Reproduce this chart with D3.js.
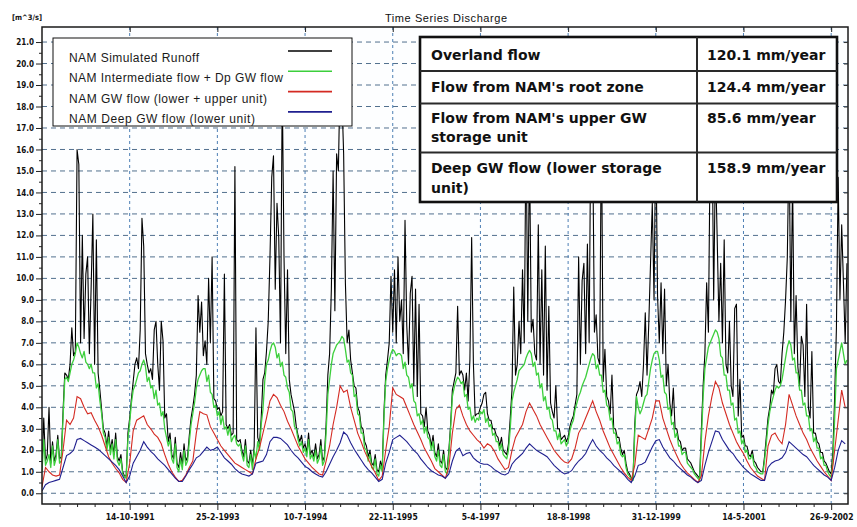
<!DOCTYPE html>
<html><head><meta charset="utf-8">
<script src="https://cdn.jsdelivr.net/npm/d3@7"></script>
<style>body{margin:0;background:#fff}svg{display:block}</style>
</head><body>
<svg id="chart" width="857" height="527"></svg>
<script>
// ---------------- DATA ----------------
const startDate = "1990-06-01";
const endDate = "2002-12-31";
const fastStepDays = 10;   // runoff + intermediate series sampling
const slowStepDays = 20;   // groundwater series sampling

const xTickLabels = ["14-10-1991","25-2-1993","10-7-1994","22-11-1995","5-4-1997","18-8-1998","31-12-1999","14-5-2001","26-9-2002"];
const yTickLabels = ["0.0","1.0","2.0","3.0","4.0","5.0","6.0","7.0","8.0","9.0","10.0","11.0","12.0","13.0","14.0","15.0","16.0","17.0","18.0","19.0","20.0","21.0"];
const seriesNames = ["NAM Simulated Runoff","NAM Intermediate flow + Dp GW flow","NAM GW flow (lower + upper unit)","NAM Deep GW flow (lower unit)"];
const tableLabels = [["Overland flow"],["Flow from NAM's root zone"],["Flow from NAM's upper GW","storage unit"],["Deep GW flow (lower storage","unit)"]];
const tableValues = ["120.1 mm/year","124.4 mm/year","85.6 mm/year","158.9 mm/year"];

// NAM Simulated Runoff (every 10 days)
const runoff = [
1.2,3.5,1.5,1.8,4.0,1.4,2.4,1.5,1.8,2.7,
1.6,1.7,3.8,5.6,5.5,5.3,6.0,7.7,6.4,6.6,
16.0,15.3,7.0,12.0,7.2,10.2,11.0,6.5,9.5,13.0,
6.0,11.8,5.6,4.8,3.9,3.0,2.8,2.2,2.9,2.0,
2.5,1.8,2.8,1.7,1.5,1.8,1.0,0.8,0.8,2.8,
3.5,4.4,5.2,6.0,6.3,5.8,7.6,12.8,11.5,6.5,
6.0,5.6,5.8,5.3,7.6,8.0,6.0,4.8,8.0,7.1,
3.5,3.7,2.4,2.8,1.8,1.6,2.6,1.4,1.2,1.9,
1.3,2.3,1.5,1.7,2.7,3.5,4.0,4.6,5.5,9.2,
7.5,8.9,6.4,7.1,6.0,10.0,7.0,11.0,4.4,4.3,
3.9,4.0,3.6,3.8,10.2,3.2,3.0,3.2,2.7,2.8,
15.2,2.5,2.4,2.5,2.0,1.7,2.5,1.5,1.4,2.0,
1.3,2.2,7.7,2.6,2.3,3.5,5.3,5.6,6.6,8.0,
11.0,14.7,15.7,9.5,13.5,11.9,7.0,19.0,11.0,6.5,
10.4,5.3,4.6,4.2,3.8,3.1,2.7,2.4,2.7,2.1,
2.3,1.9,2.8,1.8,2.0,1.7,2.3,1.6,1.8,2.5,
1.5,1.7,3.2,5.5,6.5,9.5,15.0,8.5,15.8,15.0,
19.5,18.5,15.8,9.8,7.0,7.6,6.2,5.6,5.0,4.9,
4.0,3.8,3.1,3.0,2.4,2.2,1.7,2.0,1.4,1.3,
1.8,1.1,1.0,1.5,1.2,3.8,5.5,6.2,7.0,10.1,
7.5,10.4,7.0,11.0,8.0,9.0,6.5,12.7,7.8,6.0,
9.3,10.1,5.0,9.5,4.5,8.8,3.7,3.6,3.1,4.0,
2.9,2.7,2.2,2.7,1.9,1.7,2.3,1.5,1.4,2.0,
1.2,1.1,2.0,3.2,4.8,5.2,5.6,8.7,5.5,5.7,
5.5,4.8,5.6,4.3,6.2,11.9,6.0,3.6,3.7,3.7,
4.0,4.2,4.6,4.7,3.7,3.4,3.4,3.0,3.0,2.7,
2.6,2.2,2.6,2.0,1.9,1.8,2.3,3.5,4.8,9.6,
5.5,6.0,8.0,6.5,10.4,7.0,17.0,8.0,16.0,7.5,
8.1,6.5,6.2,12.5,6.0,10.4,5.5,11.5,4.8,8.7,
4.2,3.8,3.5,5.0,3.0,3.0,2.5,2.6,2.7,2.4,
2.6,3.1,3.4,3.6,4.1,4.6,11.0,6.0,9.9,10.7,
6.5,11.6,7.0,18.0,16.5,7.5,8.3,6.3,6.0,17.5,
5.2,6.7,4.5,4.3,3.7,5.5,3.0,3.0,2.6,2.6,
2.1,1.8,2.0,1.4,1.0,0.9,0.7,0.7,3.2,4.6,
4.8,5.2,4.5,6.0,8.4,5.5,7.9,10.7,13.5,9.0,
17.0,9.2,7.0,9.8,6.5,9.5,5.0,6.0,4.2,3.6,
4.9,3.0,3.0,2.5,2.4,2.0,2.1,2.1,1.6,1.5,
1.4,1.2,1.0,0.9,0.8,0.7,3.0,5.0,6.5,9.8,
7.5,16.0,18.0,9.0,15.5,11.9,8.0,10.7,7.0,11.8,
6.0,5.6,8.0,5.0,4.5,8.6,8.8,3.6,5.3,2.6,
2.7,2.2,2.2,1.8,1.7,2.0,1.5,1.4,1.2,1.1,
1.0,1.0,1.7,2.6,3.5,4.0,4.8,4.6,5.8,6.0,
5.2,5.1,6.5,7.5,9.0,11.0,16.5,8.0,14.5,6.5,
9.2,5.9,5.0,7.3,6.9,4.5,8.8,4.0,3.5,6.6,
2.8,2.8,2.4,2.3,1.9,1.9,1.5,1.4,1.2,1.0,
0.9,2.0,4.5,7.7,14.7,9.0,12.5,9.8,7.0,10.7
];

// NAM Intermediate flow + Dp GW flow (every 10 days)
const intermediate = [
1.0,2.5,1.3,1.5,1.8,1.2,2.2,1.3,1.6,2.5,
1.4,1.5,3.5,5.3,5.4,5.2,5.6,6.0,6.2,6.5,
7.0,6.8,6.5,6.3,6.6,6.1,6.0,5.8,6.0,5.6,
5.6,4.9,5.1,4.3,3.7,2.8,2.6,2.0,2.6,1.8,
2.3,1.6,2.5,1.5,1.3,1.6,0.9,0.75,0.7,2.5,
3.3,4.2,4.8,5.0,5.3,5.6,5.7,6.0,6.2,5.9,
5.2,5.4,4.9,5.0,4.4,4.8,4.1,4.2,3.6,3.8,
3.0,2.6,2.2,2.5,1.6,1.4,2.3,1.2,1.0,1.6,
1.1,2.0,1.3,1.5,2.4,3.2,3.7,4.2,4.9,5.3,
5.5,5.7,5.8,5.8,5.2,5.5,4.7,4.6,4.0,4.1,
3.6,3.8,3.2,3.6,3.0,3.1,2.7,3.1,2.4,2.6,
2.7,2.3,2.2,2.3,1.8,1.5,2.2,1.3,1.2,1.8,
1.1,2.0,1.6,2.4,2.0,3.2,3.9,5.2,6.0,6.2,
6.6,6.9,7.0,6.8,6.3,6.5,5.9,6.1,5.5,5.4,
4.9,4.7,3.9,3.8,3.1,3.0,2.5,2.2,2.4,1.9,
2.1,1.7,2.5,1.6,1.8,1.5,2.0,1.4,1.6,2.2,
1.3,1.5,2.8,4.6,5.3,6.0,6.5,6.7,6.9,7.0,
7.1,7.3,7.2,6.7,6.1,6.2,5.6,5.5,4.5,4.6,
3.7,3.6,2.8,2.8,2.1,2.0,1.5,1.8,1.2,1.1,
1.6,0.9,0.8,1.3,1.0,3.5,5.2,5.8,6.2,6.5,
6.7,6.6,6.4,6.5,6.5,6.4,5.8,6.1,5.5,5.4,
4.9,5.1,4.3,4.2,3.6,3.7,3.2,3.4,2.8,3.1,
2.6,2.5,2.0,2.4,1.7,1.5,2.0,1.3,1.2,1.8,
1.0,0.9,1.8,3.0,4.5,4.9,5.2,5.4,5.3,5.1,
5.2,4.5,4.6,3.9,4.0,3.4,3.6,3.3,3.5,3.4,
3.8,3.7,3.9,3.3,3.5,3.1,3.2,2.7,2.8,2.4,
2.4,2.0,2.3,1.8,1.7,1.6,2.0,3.0,4.3,4.7,
5.0,5.3,5.7,5.8,5.9,6.0,6.3,6.5,6.65,6.5,
5.9,6.1,5.5,5.6,4.9,5.1,4.3,4.5,3.9,4.0,
3.5,3.4,2.9,2.9,2.5,2.8,2.3,2.4,2.5,2.2,
2.4,2.9,3.2,3.4,3.9,4.2,4.5,4.7,5.0,5.2,
5.4,5.7,6.0,6.3,6.5,6.4,5.8,6.0,5.5,5.5,
4.7,4.8,4.1,4.0,3.4,3.5,2.8,2.8,2.3,2.4,
1.8,1.7,1.8,1.2,0.9,0.8,0.65,0.6,2.8,4.5,
4.0,3.7,3.9,4.2,4.5,4.6,5.2,5.8,6.2,6.5,
6.6,6.6,6.2,5.4,5.5,4.7,4.6,3.9,4.0,3.2,
3.3,2.6,2.8,2.2,2.2,1.8,1.9,1.9,1.4,1.3,
1.2,1.1,0.9,0.8,0.7,0.6,2.5,4.5,5.8,6.3,
6.8,7.0,7.2,7.4,7.6,7.5,7.2,6.4,6.3,5.5,
5.5,4.8,4.8,4.1,4.2,3.4,3.5,2.8,2.9,2.3,
2.5,1.9,2.0,1.6,1.6,1.8,1.3,1.2,1.0,0.95,
0.9,0.9,1.5,2.3,3.2,3.8,4.2,4.5,4.8,5.0,
4.9,5.0,5.3,5.8,6.3,6.8,7.1,6.9,6.2,6.3,
5.6,5.6,4.8,4.8,4.1,4.2,3.6,3.6,2.9,3.0,
2.4,2.6,2.1,2.1,1.6,1.7,1.3,1.3,1.0,0.85,
0.75,1.5,3.5,5.8,6.2,6.6,7.0,6.5,6.0,6.2
];

// NAM GW flow (lower + upper unit) (every 20 days)
const gwFlow = [
0.3,1.2,1.0,0.85,0.8,0.85,2.0,3.4,3.2,3.5,
4.5,4.4,4.0,3.7,3.75,3.4,3.1,2.7,2.2,1.7,
1.4,1.15,0.95,0.65,0.5,1.4,2.9,3.4,3.5,3.6,
3.2,3.0,2.75,2.6,2.3,1.8,1.35,1.0,0.75,0.55,
0.6,0.85,1.2,1.5,2.8,3.8,3.7,3.65,3.1,2.8,
2.5,2.2,2.0,1.8,1.6,1.4,1.3,1.2,1.1,1.0,
0.9,1.6,2.1,2.8,3.5,4.3,4.6,4.45,4.1,3.8,
3.35,3.0,2.6,2.2,1.9,1.6,1.4,1.2,1.05,0.9,
0.85,1.5,2.2,3.2,4.0,5.0,4.7,4.8,4.0,3.4,
2.8,2.4,1.95,1.6,1.25,0.95,0.6,0.8,2.0,3.1,
4.9,4.6,4.5,4.4,4.0,3.6,3.2,2.85,2.5,2.1,
1.8,1.5,1.15,1.0,0.85,0.7,1.2,2.8,3.9,4.1,
3.6,3.2,2.9,2.7,2.5,2.35,2.1,2.3,2.2,1.95,
1.6,1.35,1.1,1.2,2.0,2.6,2.9,3.2,3.8,4.2,
3.9,3.6,3.2,2.9,2.6,2.3,2.0,1.8,1.6,1.45,
1.4,1.6,2.1,2.8,3.1,3.5,3.9,4.3,3.8,3.4,
2.9,2.5,2.1,1.8,1.5,1.2,0.95,0.75,0.6,1.3,
2.7,2.6,2.5,3.0,3.5,4.3,4.3,3.5,3.0,2.5,
2.1,1.75,1.4,1.15,0.95,0.8,0.65,0.5,0.8,2.4,
3.6,4.5,5.2,4.9,4.2,3.7,3.2,2.8,2.4,2.1,
1.85,1.5,1.2,1.0,0.8,0.7,0.6,2.2,2.7,2.8,
2.5,2.3,3.2,4.6,4.1,3.6,3.2,2.8,2.5,2.1,
1.8,1.5,1.25,1.0,0.8,0.6,2.0,3.4,4.8,4.0
];

// NAM Deep GW flow (lower unit) (every 20 days)
const deepGw = [
0.1,0.4,0.5,0.55,0.6,0.65,1.2,1.75,1.85,2.0,
2.5,2.55,2.45,2.35,2.25,2.15,2.05,1.9,1.75,1.6,
1.45,1.3,1.1,0.8,0.5,0.8,1.4,1.7,2.0,2.4,
2.15,1.95,1.8,1.6,1.45,1.3,1.1,0.9,0.7,0.55,
0.55,0.8,1.1,1.35,1.65,1.75,1.95,2.15,2.0,2.05,
2.15,1.9,1.65,1.5,1.35,1.15,1.0,0.9,0.85,0.8,
0.9,1.4,1.45,1.5,1.8,2.4,2.6,2.6,2.55,2.4,
2.25,2.0,1.8,1.65,1.45,1.25,1.15,1.0,0.9,0.8,
0.75,1.0,1.35,1.7,2.0,2.35,2.85,2.7,2.35,2.05,
1.8,1.55,1.3,1.1,0.95,0.75,0.55,0.65,1.4,1.9,
2.5,2.6,2.7,2.55,2.4,2.2,2.0,1.85,1.6,1.4,
1.2,1.05,0.95,0.85,0.8,0.7,0.9,1.5,1.95,2.1,
1.75,1.85,1.9,1.65,1.5,1.4,1.35,1.35,1.25,1.1,
1.0,0.9,0.85,0.95,1.35,1.55,1.7,1.85,2.1,2.3,
2.15,2.0,1.9,1.8,1.7,1.5,1.3,1.15,1.0,0.9,
0.95,1.05,1.3,1.5,1.65,1.85,2.2,2.5,2.2,2.0,
1.85,1.65,1.5,1.3,1.15,1.0,0.85,0.65,0.5,0.8,
1.3,1.35,1.45,1.8,2.15,2.45,2.5,2.15,1.9,1.65,
1.5,1.3,1.15,1.0,0.85,0.75,0.6,0.5,0.6,1.3,
1.9,2.4,2.9,2.85,2.5,2.25,2.0,1.85,1.6,1.4,
1.2,1.05,0.9,0.8,0.7,0.6,0.6,1.2,1.4,1.5,
1.55,1.65,1.9,2.4,2.25,2.1,1.95,1.8,1.7,1.5,
1.3,1.15,1.0,0.85,0.75,0.6,1.2,2.0,2.45,2.3
];

const seriesColors = ["#000000","#3ccf3c","#d42a22","#1f1f8f"];

// ---------------- CHART ----------------
const L = 42, T = 27, R = 848, B = 504;
const svg = d3.select("#chart");

const utc = s => new Date(s + "T00:00:00Z");
const parseDMY = s => { const p = s.split("-").map(Number); return new Date(Date.UTC(p[2], p[1]-1, p[0])); };
const t0 = utc(startDate), t1 = utc(endDate);

const x = d3.scaleUtc().domain([t0, t1]).range([L, R]);
const y = d3.scaleLinear().domain([-0.5, 21.7]).range([B, T]);

const fastDates = runoff.map((_, i) => d3.utcDay.offset(t0, i * fastStepDays));
const slowDates = gwFlow.map((_, i) => d3.utcDay.offset(t0, i * slowStepDays));
const tickDates = xTickLabels.map(parseDMY);
const yVals = yTickLabels.map(Number);

const condensed = "'DejaVu Sans Condensed','DejaVu Sans',sans-serif";
const sans = "'Liberation Sans',Arial,sans-serif";

svg.append("rect").attr("x", L).attr("y", T).attr("width", R-L).attr("height", B-T).attr("fill", "#fdfeff");

// gridlines
const grid = svg.append("g");
grid.selectAll("line.h").data(yVals).join("line")
  .attr("x1", L).attr("x2", R).attr("y1", d => y(d)).attr("y2", d => y(d))
  .attr("stroke", "#52708e").attr("stroke-width", 1).attr("stroke-dasharray", "5,4");
grid.selectAll("line.v").data(tickDates).join("line")
  .attr("x1", d => x(d)).attr("x2", d => x(d)).attr("y1", T).attr("y2", B)
  .attr("stroke", "#4d7fb4").attr("stroke-width", 1).attr("stroke-dasharray", "3,3");

svg.append("clipPath").attr("id", "clip").append("rect")
  .attr("x", L).attr("y", T).attr("width", R-L).attr("height", B-T);

const lineFast = d3.line().x((d, i) => x(fastDates[i])).y(d => y(d));
const lineSlow = d3.line().x((d, i) => x(slowDates[i])).y(d => y(d));
const plot = svg.append("g").attr("clip-path", "url(#clip)");
plot.append("path").datum(runoff).attr("d", lineFast).attr("fill", "none").attr("stroke", seriesColors[0]).attr("stroke-width", 1.1).attr("stroke-linejoin", "round");
plot.append("path").datum(intermediate).attr("d", lineFast).attr("fill", "none").attr("stroke", seriesColors[1]).attr("stroke-width", 1.3).attr("stroke-linejoin", "round");
plot.append("path").datum(gwFlow).attr("d", lineSlow).attr("fill", "none").attr("stroke", seriesColors[2]).attr("stroke-width", 1.1);
plot.append("path").datum(deepGw).attr("d", lineSlow).attr("fill", "none").attr("stroke", seriesColors[3]).attr("stroke-width", 1.1);

svg.append("rect").attr("x", L).attr("y", T).attr("width", R-L).attr("height", B-T)
  .attr("fill", "none").attr("stroke", "#1a1a1a").attr("stroke-width", 1.5);

// axes
const minorX = d3.range(1, 46).filter(k => k % 5 !== 0).map(k => d3.utcDay.offset(t0, k*100));
const xAxis = svg.append("g").attr("transform", `translate(0,${B})`)
  .call(d3.axisBottom(x).tickValues(tickDates).tickFormat((d, i) => xTickLabels[i]).tickSize(6).tickPadding(4));
xAxis.select(".domain").remove();
xAxis.selectAll("text").attr("font-family", condensed).attr("font-weight", "bold").attr("font-size", "8.5px").attr("fill", "#111");
xAxis.selectAll("line").attr("stroke", "#222");
const xMinor = svg.append("g").attr("transform", `translate(0,${B})`)
  .call(d3.axisBottom(x).tickValues(minorX).tickFormat("").tickSize(3));
xMinor.select(".domain").remove();
xMinor.selectAll("line").attr("stroke", "#222");
const xTop = svg.append("g").attr("transform", `translate(0,${T})`)
  .call(d3.axisTop(x).tickValues(tickDates).tickFormat("").tickSize(-5));
xTop.select(".domain").remove();
xTop.selectAll("line").attr("stroke", "#222");

const yAxis = svg.append("g").attr("transform", `translate(${L},0)`)
  .call(d3.axisLeft(y).tickValues(yVals).tickFormat((d, i) => yTickLabels[i]).tickSize(6).tickPadding(2));
yAxis.select(".domain").remove();
yAxis.selectAll("text").attr("font-family", condensed).attr("font-weight", "bold").attr("font-size", "8px").attr("fill", "#111");
yAxis.selectAll("line").attr("stroke", "#222");
const yMinor = svg.append("g").attr("transform", `translate(${L},0)`)
  .call(d3.axisLeft(y).tickValues(yVals.slice(0, -1).map(v => v + 0.5)).tickFormat("").tickSize(3));
yMinor.select(".domain").remove();
yMinor.selectAll("line").attr("stroke", "#222");
const yRight = svg.append("g").attr("transform", `translate(${R},0)`)
  .call(d3.axisRight(y).tickValues(yVals).tickFormat("").tickSize(-4));
yRight.select(".domain").remove();
yRight.selectAll("line").attr("stroke", "#333");

// title & unit
svg.append("text").attr("x", 446).attr("y", 22).attr("text-anchor", "middle")
  .attr("font-family", sans).attr("font-size", "11px").attr("fill", "#111")
  .attr("textLength", 122).attr("lengthAdjust", "spacing").text("Time Series Discharge");
svg.append("text").attr("x", 12).attr("y", 20)
  .attr("font-family", condensed).attr("font-weight", "bold").attr("font-size", "7.5px").attr("fill", "#111")
  .text("[m^3/s]");

// legend
const legendWidths = [130, 214, 198, 186];
const lg = svg.append("g");
lg.append("rect").attr("x", 53).attr("y", 38).attr("width", 299).attr("height", 88)
  .attr("fill", "#fff").attr("stroke", "#111").attr("stroke-width", 1);
seriesNames.forEach((name, i) => {
  const by = 62 + i * 20.3;
  lg.append("text").attr("x", 69).attr("y", by)
    .attr("font-family", sans).attr("font-size", "12px").attr("fill", "#1a1a1a")
    .attr("textLength", legendWidths[i]).attr("lengthAdjust", "spacing")
    .text(name);
  lg.append("line").attr("x1", 288).attr("x2", 332).attr("y1", by - 11).attr("y2", by - 11)
    .attr("stroke", seriesColors[i]).attr("stroke-width", 1.6);
});

// table
const tb = svg.append("g");
const tx0 = 420, tx1 = 837, ty0 = 37, ty1 = 202, tcol = 697;
const rowLines = [71, 103.5, 152.5];
const labelBase = [[60], [92], [123, 142], [173, 193]];
tb.append("rect").attr("x", tx0).attr("y", ty0).attr("width", tx1-tx0).attr("height", ty1-ty0)
  .attr("fill", "#fff").attr("stroke", "#111").attr("stroke-width", 2.6);
rowLines.forEach(yy => tb.append("line").attr("x1", tx0).attr("x2", tx1).attr("y1", yy).attr("y2", yy)
  .attr("stroke", "#2a2a2a").attr("stroke-width", 2));
tb.append("line").attr("x1", tcol).attr("x2", tcol).attr("y1", ty0).attr("y2", ty1)
  .attr("stroke", "#2a2a2a").attr("stroke-width", 2);
const tFont = "'DejaVu Sans',Verdana,sans-serif";
tableLabels.forEach((lines, r) => {
  lines.forEach((s, k) => {
    tb.append("text").attr("x", 431).attr("y", labelBase[r][k])
      .attr("font-family", tFont).attr("font-weight", "bold").attr("font-size", "14px").attr("fill", "#111")
      .text(s);
  });
  tb.append("text").attr("x", 707).attr("y", labelBase[r][0])
    .attr("font-family", tFont).attr("font-weight", "bold").attr("font-size", "14px").attr("fill", "#111")
    .text(tableValues[r]);
});
</script>
</body></html>
